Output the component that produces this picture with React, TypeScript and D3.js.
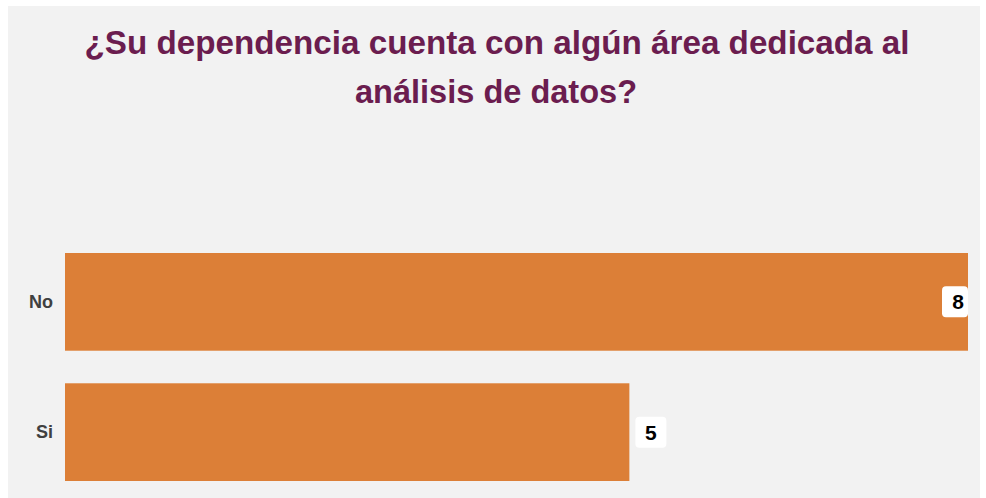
import { useEffect, useRef } from "react";
import * as d3 from "d3";

const CATEGORIES = ["No", "Si"];
const VALUES = [8, 5];
const TITLE_LINES = ["¿Su dependencia cuenta con algún área dedicada al", "análisis de datos?"];
const TITLE_WIDTHS = [825, 282];

const W = 986;
const H = 498;
const M = { top: 253, right: 18, bottom: 17, left: 65 };
const FONT = "'Liberation Sans Narrow', 'Arial Narrow', 'Liberation Sans', Arial, sans-serif";

export default function App() {
  const svgRef = useRef<SVGSVGElement | null>(null);

  useEffect(() => {
    const svg = d3.select(svgRef.current);
    svg.selectAll("*").remove();

    // panel background
    svg
      .append("rect")
      .attr("x", 8)
      .attr("y", 6)
      .attr("width", W - 14)
      .attr("height", H - 6)
      .attr("fill", "#f2f2f2");

    const x = d3.scaleLinear().domain([0, 8]).range([M.left, W - M.right]);
    const y = d3
      .scaleBand<string>()
      .domain(CATEGORIES)
      .range([M.top, H - M.bottom])
      .paddingInner(0.25)
      .paddingOuter(0);

    svg
      .append("g")
      .selectAll("text")
      .data(TITLE_LINES)
      .join("text")
      .attr("x", (_d, i) => (i === 0 ? 497 : 496))
      .attr("y", (_d, i) => 54 + i * 49)
      .attr("text-anchor", "middle")
      .attr("font-family", FONT)
      .attr("font-weight", "bold")
      .attr("font-size", 34)
      .attr("textLength", (_d, i) => TITLE_WIDTHS[i])
      .attr("lengthAdjust", "spacingAndGlyphs")
      .attr("fill", "#6b1d4f")
      .text((d) => d);

    const rows = CATEGORIES.map((c, i) => ({ c, v: VALUES[i] }));

    svg
      .append("g")
      .selectAll("rect")
      .data(rows)
      .join("rect")
      .attr("x", x(0))
      .attr("y", (d) => y(d.c)!)
      .attr("width", (d) => x(d.v) - x(0))
      .attr("height", y.bandwidth())
      .attr("fill", "#dc7f37");

    // category labels
    svg
      .append("g")
      .selectAll("text")
      .data(rows)
      .join("text")
      .attr("x", x(0) - 12)
      .attr("y", (d) => y(d.c)! + y.bandwidth() / 2)
      .attr("dy", "0.35em")
      .attr("text-anchor", "end")
      .attr("font-family", FONT)
      .attr("font-weight", "bold")
      .attr("font-size", 18)
      .attr("fill", "#404040")
      .text((d) => d.c);

    // value badges
    const bw = 26;
    const bh = 31;
    const atEdge = (v: number) => x(v) >= W - M.right - 1;
    const badge = svg
      .append("g")
      .selectAll("g")
      .data(rows)
      .join("g")
      .attr("transform", (d) => {
        const bx = atEdge(d.v) ? x(d.v) - bw : x(d.v) + 6;
        return `translate(${bx},${y(d.c)! + y.bandwidth() / 2 - bh / 2})`;
      });
    badge
      .append("rect")
      .attr("width", (d) => (atEdge(d.v) ? bw : bw + 5))
      .attr("height", bh)
      .attr("rx", 4)
      .attr("fill", "#ffffff");
    badge
      .append("text")
      .attr("x", (d) => (atEdge(d.v) ? bw / 2 + 3 : (bw + 5) / 2))
      .attr("y", bh / 2)
      .attr("dy", "0.36em")
      .attr("text-anchor", "middle")
      .attr("font-family", FONT)
      .attr("font-weight", "bold")
      .attr("font-size", 21)
      .attr("fill", "#000000")
      .text((d) => d.v);
  }, []);

  return (
    <svg
      ref={svgRef}
      width={W}
      height={H}
      style={{ position: "absolute", left: 0, top: 0, background: "#ffffff" }}
    />
  );
}
